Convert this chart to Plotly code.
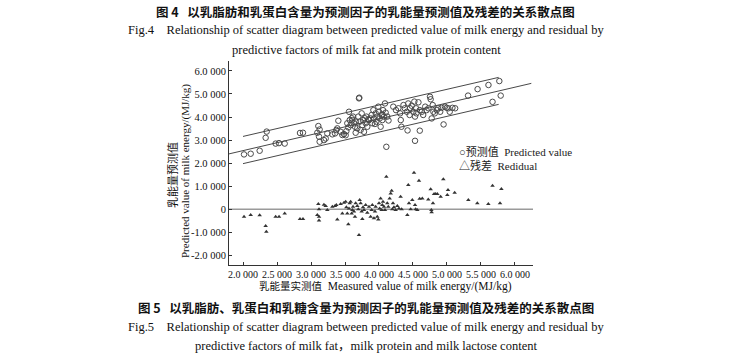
import plotly.graph_objects as go

# ---- predicted values (circles) ----
pred_x = [2.015, 2.113, 2.245, 2.333, 2.348, 2.480, 2.529, 2.613, 2.838, 2.882,
          3.108, 3.127, 3.093, 3.118, 3.127, 3.191, 3.216, 3.240, 3.314, 3.353,
          3.373, 3.387, 3.402, 3.436, 3.461, 3.485, 3.510, 3.520, 3.534, 3.549,
          3.559, 3.569, 3.583, 3.608, 3.618, 3.632, 3.647, 3.657, 3.681, 3.696,
          3.706, 3.716, 3.730, 3.745, 3.755, 3.765, 3.779, 3.804, 3.814, 3.828,
          3.853, 3.877, 3.892, 3.902, 3.917, 3.926, 3.951, 3.961, 3.975, 3.990,
          4.000, 4.010, 4.024, 4.039, 4.049, 4.059, 4.073, 4.088, 4.098, 4.108,
          4.122, 4.21, 4.25, 4.285, 4.31, 4.32, 4.33, 4.36, 4.38, 4.41,
          4.43, 4.45, 4.456, 4.48, 4.505, 4.52, 4.53, 4.545, 4.55, 4.58,
          4.60, 4.63, 4.65, 4.68, 4.70, 4.726, 4.75, 4.76, 4.775, 4.79,
          4.80, 4.82, 4.85, 4.87, 4.90, 4.92, 4.95, 4.97, 4.995, 5.02,
          5.04, 5.08, 5.12, 5.31, 5.45, 5.61, 5.67, 5.77, 5.79, 4.42,
          4.53, 4.60, 3.71, 3.60, 3.66, 3.79, 3.84, 3.94, 4.05, 4.14]
pred_y = [2.38, 2.41, 2.54, 3.10, 3.37, 2.85, 2.87, 2.85, 3.31, 3.32,
          3.61, 3.46, 3.32, 3.15, 2.93, 3.00, 3.07, 3.29, 3.25, 3.29,
          3.44, 3.51, 3.84, 3.36, 3.22, 3.26, 3.21, 3.39, 3.73, 3.55,
          4.23, 3.87, 3.65, 3.87, 4.02, 3.73, 3.58, 3.32, 3.51, 4.02,
          4.81, 3.80, 3.44, 4.16, 3.65, 3.87, 3.36, 3.73, 4.02, 3.58,
          3.87, 3.94, 4.09, 3.73, 4.30, 3.94, 4.16, 3.80, 4.02, 4.45,
          4.23, 3.94, 3.58, 4.09, 3.87, 4.30, 4.02, 4.59, 4.19, 2.71,
          4.02, 4.45, 4.30, 4.38, 4.16, 3.87, 3.58, 4.52, 4.38, 4.23,
          4.59, 4.09, 4.38, 4.49, 4.23, 4.67, 4.02, 4.38, 4.16, 4.64,
          4.30, 4.23, 4.09, 4.45, 4.30, 4.38, 4.88, 4.77, 3.94, 4.52,
          4.23, 4.16, 4.30, 4.38, 4.23, 4.40, 3.68, 4.45, 4.40, 4.38,
          4.23, 4.40, 4.38, 4.93, 5.21, 5.39, 4.66, 5.56, 4.93, 3.42,
          2.97, 3.41, 4.84, 3.95, 3.80, 3.95, 3.90, 3.70, 4.12, 3.85]

# ---- residuals (triangles) ----
res_x = [2.015, 2.113, 2.245, 2.333, 2.343, 2.48, 2.53, 2.613, 2.838, 2.882,
         3.108, 3.118, 3.093, 3.118, 3.118, 3.19, 3.216, 3.24, 3.314, 3.353,
         3.373, 3.387, 3.436, 3.461, 3.485, 3.51, 3.52, 3.534, 3.549, 3.559,
         3.569, 3.583, 3.598, 3.608, 3.618, 3.632, 3.647, 3.657, 3.681, 3.696,
         3.706, 3.716, 3.73, 3.745, 3.755, 3.765, 3.779, 3.804, 3.828, 3.853,
         3.877, 3.892, 3.902, 3.926, 3.941, 3.951, 3.975, 3.99, 4.00, 4.01,
         4.024, 4.039, 4.049, 4.059, 4.073, 4.088, 4.108, 4.122, 4.137, 4.157,
         4.172, 4.186, 4.196, 4.206, 4.22, 4.245, 4.27, 4.294, 4.318, 4.333,
         4.417, 4.431, 4.441, 4.466, 4.49, 4.515, 4.53, 4.539, 4.564, 4.588,
         4.598, 4.637, 4.725, 4.76, 4.77, 4.774, 4.794, 4.81, 4.833, 4.858,
         4.907, 4.946, 5.005, 5.015, 5.113, 5.314, 5.446, 5.608, 5.67, 5.78,
         5.80]
res_y = [-0.32, -0.25, -0.26, -0.72, -0.97, -0.32, -0.32, -0.18, -0.42, -0.42,
         0.23, 0.00, -0.25, -0.32, -0.49, 0.20, 0.14, -0.03, 0.11, 0.14,
         0.19, -0.44, 0.23, -0.18, 0.29, 0.33, 0.09, -0.18, -0.65, 0.04,
         0.26, 0.33, -0.18, -0.03, 0.11, -0.10, -0.32, 0.26, 0.14, 0.00,
         -1.11, 0.40, 0.26, -0.10, -0.42, 0.09, -0.03, 0.19, -0.15, 0.11,
         -0.32, -0.03, 0.19, -0.39, -0.10, 0.11, -0.32, -0.44, 0.26, 0.04,
         0.47, -0.03, 0.19, 0.33, 0.11, -0.03, 1.41, 0.26, 0.11, 0.47,
         0.69, 0.81, 0.00, 0.26, 0.09, -0.03, 0.14, 0.04, 0.55, 0.00,
         -0.25, 1.05, 0.26, 0.00, 0.40, 1.59, 0.19, 0.00, -0.03, 1.24,
         0.46, 0.47, 0.43, 0.87, -0.03, -0.13, 0.26, 0.66, 0.66, 0.66,
         0.55, 1.30, 0.62, 0.84, 0.72, 0.40, 0.26, 0.23, 1.02, 0.26,
         0.88]

# ---- fitted line and bands ----
mid_x = [1.79, 6.24]
mid_y = [2.40, 5.46]
up_x = [2.0, 5.76]
up_y = [3.16, 5.72]
lo_x = [2.0, 5.76]
lo_y = [1.98, 4.55]
zero_x = [1.794, 6.265]
zero_y = [0, 0]

x_ticks = [2.0, 2.5, 3.0, 3.5, 4.0, 4.5, 5.0, 5.5, 6.0]
x_ticktext = ["2.0 000", "2.5 000", "3.0 000", "3.5 000", "4.0 000",
              "4.5 000", "5.0 000", "5.5 000", "6.0 000"]
y_ticks = [-2, -1, 0, 1, 2, 3, 4, 5, 6]
y_ticktext = ["-2.0 000", "-1.0 000", "0", "1.0 000", "2.0 000",
              "3.0 000", "4.0 000", "5.0 000", "6.0 000"]

SERIF = "Liberation Serif, Noto Sans CJK SC, serif"
CJK = "Noto Sans CJK SC, sans-serif"

# plot area target (absolute px): x 229..533, y 61..265
L, R, T, B = 229, 533, 61, 265

fig = go.Figure()
fig.add_trace(go.Scatter(x=zero_x, y=zero_y, mode="lines",
                         line=dict(color="#9a9a9a", width=1.5), showlegend=False, hoverinfo="skip"))
for lx, ly in [(mid_x, mid_y), (up_x, up_y), (lo_x, lo_y)]:
    fig.add_trace(go.Scatter(x=lx, y=ly, mode="lines",
                             line=dict(color="#333333", width=0.9), showlegend=False, hoverinfo="skip"))
fig.add_trace(go.Scatter(x=pred_x, y=pred_y, mode="markers", name="预测值",
                         marker=dict(symbol="circle-open", size=5.5, color="#4a4a4a",
                                     line=dict(color="#4a4a4a", width=1)),
                         showlegend=False))
fig.add_trace(go.Scatter(x=res_x, y=res_y, mode="markers", name="残差",
                         marker=dict(symbol="triangle-up", size=4, color="#333333",
                                     line=dict(width=0)),
                         showlegend=False))

ann = [
    dict(text="<b>图 4</b>   <b>以乳脂肪和乳蛋白含量为预测因子的乳能量预测值及残差的关系散点图</b>",
         x=365, y=11, font=dict(family=CJK, size=12.5, color="#111")),
    dict(text="Fig.4    Relationship of scatter diagram between predicted value of milk energy and residual by",
         x=366, y=30, font=dict(family=SERIF, size=12.5, color="#111")),
    dict(text="predictive factors of milk fat and milk protein content",
         x=366, y=50, font=dict(family=SERIF, size=12.5, color="#111")),
    dict(text="<b>图 5</b>   <b>以乳脂肪、乳蛋白和乳糖含量为预测因子的乳能量预测值及残差的关系散点图</b>",
         x=366, y=307, font=dict(family=CJK, size=12.5, color="#111")),
    dict(text="Fig.5    Relationship of scatter diagram between predicted value of milk energy and residual by",
         x=366, y=327, font=dict(family=SERIF, size=12.5, color="#111")),
    dict(text="predictive factors of milk fat，milk protein and milk lactose content",
         x=366, y=346, font=dict(family=SERIF, size=12.5, color="#111")),
    dict(text="<span style='font-size:10.5px'>乳能量实测值</span>  Measured value of milk energy/(MJ/kg)",
         x=385, y=286, font=dict(family=SERIF, size=11.5, color="#111")),
]
annotations = []
for a in ann:
    annotations.append(dict(text=a["text"], xref="paper", yref="paper",
                            x=(a["x"] - L) / (R - L),
                            y=(B - a["y"]) / (B - T),
                            xanchor="center", yanchor="middle", showarrow=False,
                            font=a["font"]))
# y-axis titles (rotated)
for txt, px, py in [("乳能量预测值", 172, 175),
                    ("Predicted value of milk energy/(MJ/kg)", 185, 171)]:
    annotations.append(dict(text=txt, xref="paper", yref="paper",
                            x=(px - L) / (R - L), y=(B - py) / (B - T),
                            xanchor="center", yanchor="middle", textangle=-90,
                            showarrow=False, font=dict(family=SERIF, size=11, color="#111")))
# legend texts
for txt, py in [("○预测值  Predicted value", 152), ("△残差  Redidual", 165)]:
    annotations.append(dict(text=txt, xref="paper", yref="paper",
                            x=(457 - L) / (R - L), y=(B - py) / (B - T),
                            xanchor="left", yanchor="middle", showarrow=False,
                            font=dict(family=SERIF, size=11, color="#222")))

W, H = 742, 358
fig.update_layout(
    width=W, height=H,
    margin=dict(l=L, r=W - R, t=T, b=H - B),
    paper_bgcolor="white", plot_bgcolor="white",
    annotations=annotations,
    xaxis=dict(range=[1.794, 6.265], tickvals=x_ticks, ticktext=x_ticktext,
               tickangle=0,
               showgrid=False, zeroline=False, showline=True, linecolor="#333",
               linewidth=1, ticks="inside", ticklen=3, tickcolor="#333",
               tickfont=dict(family=SERIF, size=10, color="#111")),
    yaxis=dict(range=[-2.414, 6.43], tickvals=y_ticks, ticktext=y_ticktext,
               showgrid=False, zeroline=False, showline=True, linecolor="#333",
               linewidth=1, ticks="inside", ticklen=3, tickcolor="#333",
               tickfont=dict(family=SERIF, size=10.5, color="#111")),
)

fig.write_html("out.html", config={"displayModeBar": False},
               post_script="document.body.style.margin='0';")
